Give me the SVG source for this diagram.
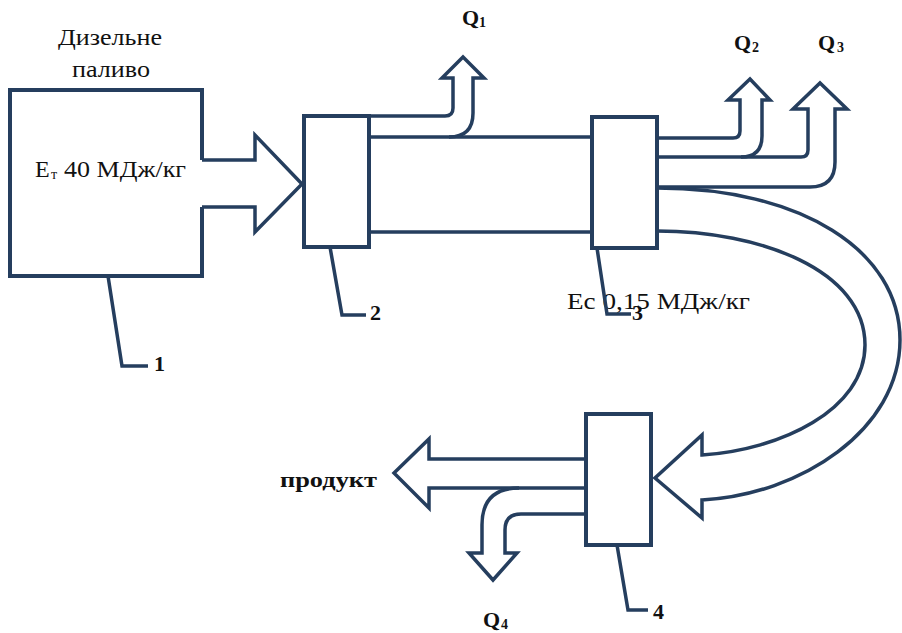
<svg xmlns="http://www.w3.org/2000/svg" width="902" height="633" viewBox="0 0 902 633">
<style>
.ln{fill:none;stroke:#253e5e;stroke-width:3.5;stroke-linejoin:miter}
.bx{fill:#fff;stroke:#253e5e;stroke-width:4}
.ld{fill:none;stroke:#253e5e;stroke-width:3.5}
.t{font-family:"Liberation Serif","DejaVu Serif","Times New Roman",serif;fill:#111;font-size:24px}
.b{font-family:"Liberation Serif","DejaVu Serif","Times New Roman",serif;fill:#111;font-weight:bold;font-size:22px}
.s{font-size:14px}
</style>
<rect width="902" height="633" fill="#fff"/>
<g id="connectors">
  <path class="ln" d="M202,160 H255 V135 L302,184 L255,232 V207 H202"/>
  <path class="ln" d="M369,116 H445 Q453,116 453,108 V78 H442 L463,57 L484,78 H473 V113 Q473,137 449,137"/>
  <path class="ln" d="M369,137 H592 M369,232 H592"/>
  <path class="ln" d="M657,138 H733 Q740,138 740,131 V100 H728 L750,79 L770,100 H762 V136 Q762,157 741,157"/>
  <path class="ln" d="M657,157 H801 Q808,157 808,150 V109 H793 L820,83 L847,109 H835 V162 Q835,187 810,187 H657"/>
  <path class="ln" d="M657,231 C760,231 865,270 865,345 C865,410 780,450 702,455 V435 L655,478 L702,518 V500 C800,495 900,430 900,340 C900,250 800,188 657,188"/>
  <path class="ln" d="M586,459 H429 V439 L394,473 L429,508 V488 H586"/>
  <path class="ln" d="M519,488 Q482,488 482,525 V553 H469 L493,580 L517,553 H505 V530 Q505,514 521,514 H586"/>
</g>
<g id="node1">
  <path class="bx" d="M202,160 V90 H10 V276 H202 V207" style="fill:none"/>
  <text class="t" x="58" y="45" textLength="104" lengthAdjust="spacingAndGlyphs">Дизельне</text>
  <text class="t" x="72" y="77" textLength="78" lengthAdjust="spacingAndGlyphs">паливо</text>
  <text class="t" x="35" y="177">Е</text>
  <text class="t s" x="51" y="179">т</text>
  <text class="t" x="64" y="177" textLength="122" lengthAdjust="spacingAndGlyphs">40 МДж/кг</text>
  <path class="ld" d="M108,276 L122,366 H148"/>
  <text class="b" x="154" y="371">1</text>
</g>
<g id="node2">
  <rect class="bx" x="304" y="116" width="65" height="131"/>
  <path class="ld" d="M330,247 L342,315 H366"/>
  <text class="b" x="370" y="320">2</text>
  <text class="b" x="462" y="25">Q</text>
  <text class="b s" x="479" y="27">1</text>
</g>
<g id="node3">
  <rect class="bx" x="592" y="117" width="65" height="131"/>
  <text class="t" x="567" y="309" font-size="22" textLength="183" lengthAdjust="spacingAndGlyphs">Ес 0,15 МДж/кг</text>
  <path class="ld" d="M597,248 L607,314 H631"/>
  <text class="b" x="632" y="320">3</text>
  <text class="b" x="734" y="50">Q</text>
  <text class="b s" x="752" y="52">2</text>
  <text class="b" x="818" y="50">Q</text>
  <text class="b s" x="837" y="52">3</text>
</g>
<g id="node4">
  <rect class="bx" x="586" y="414" width="65" height="131"/>
  <path class="ld" d="M617,545 L628,610 H648"/>
  <text class="b" x="653" y="619">4</text>
  <text class="b" x="280" y="487" font-size="21" textLength="97" lengthAdjust="spacingAndGlyphs">продукт</text>
  <text class="b" x="483" y="627">Q</text>
  <text class="b s" x="501" y="629">4</text>
</g>
</svg>
